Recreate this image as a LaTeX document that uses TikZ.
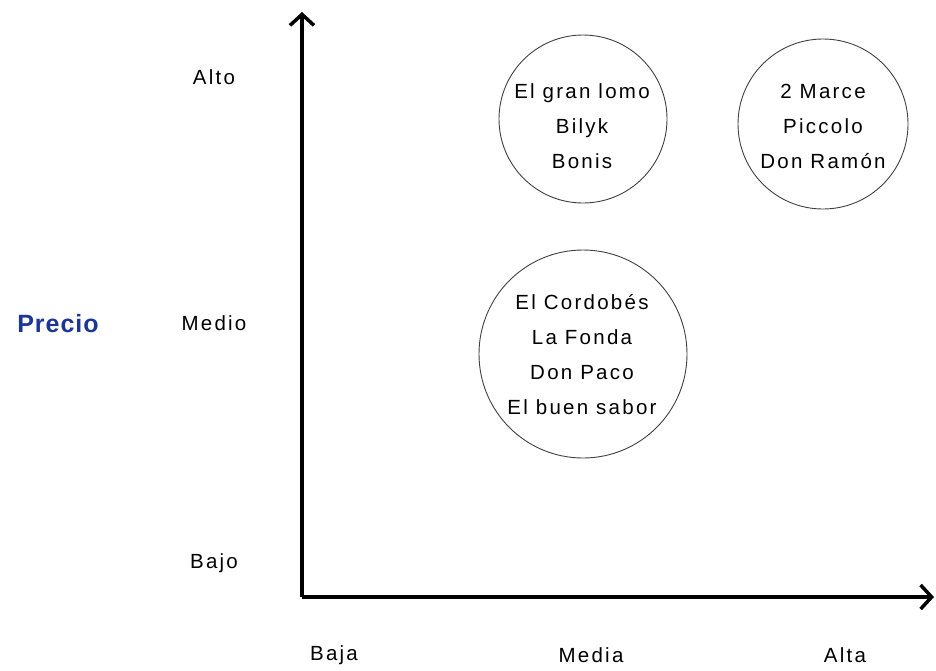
\documentclass[tikz,border=0pt]{standalone}
\usepackage{fontspec}
\setmainfont{Liberation Sans}
\newfontfamily\labfont{Liberation Sans}[LetterSpace=11]
\newfontfamily\titfont{Liberation Sans}[LetterSpace=4]
\usetikzlibrary{arrows.meta}
\definecolor{precioblue}{RGB}{28,54,150}
\begin{document}
\begin{tikzpicture}[x=1pt,y=-1pt,
  lbl/.style={font=\labfont\fontsize{20.5}{35}\selectfont, inner sep=0pt, align=center},
  axis/.style={line width=3.5pt, -{Straight Barb[length=11pt,width=24pt,line width=3.5pt]}},
  bubble/.style={draw=black!75, line width=0.9pt, circle, inner sep=0pt}]
\useasboundingbox (0,0) rectangle (936,670);
\coordinate (o) at (302,597);
\coordinate (ytop) at (302,12);
\coordinate (xend) at (934,597);
\draw[axis] (o) -- (ytop);
\draw[axis] (o) -- (xend);
% circles
\node[bubble, minimum size=168pt] (c1) at (583,119) {};
\node[bubble, minimum size=170pt] (c2) at (823,124) {};
\node[bubble, minimum size=208pt] (c3) at (583,354) {};
\node[lbl] (t1) at (582,126) {El gran lomo\\Bilyk\\Bonis};
\node[lbl] (t2) at (823,126) {2 Marce\\Piccolo\\Don Ramón};
\node[lbl] (t3) at (582,355) {El Cordobés\\La Fonda\\Don Paco\\El buen sabor};
% axis labels
\node[lbl] (alto) at (214,77) {Alto};
\node[lbl] (medio) at (214,323) {Medio};
\node[lbl] (bajo) at (214,563) {Bajo};
\node[lbl] (baja) at (334,655) {Baja};
\node[lbl] (media) at (591,655) {Media};
\node[lbl] (alta) at (845,655) {Alta};
\node[font=\titfont\bfseries\fontsize{25}{28}\selectfont, text=precioblue, inner sep=0pt] (precio) at (58,324) {Precio};
\end{tikzpicture}
\end{document}
